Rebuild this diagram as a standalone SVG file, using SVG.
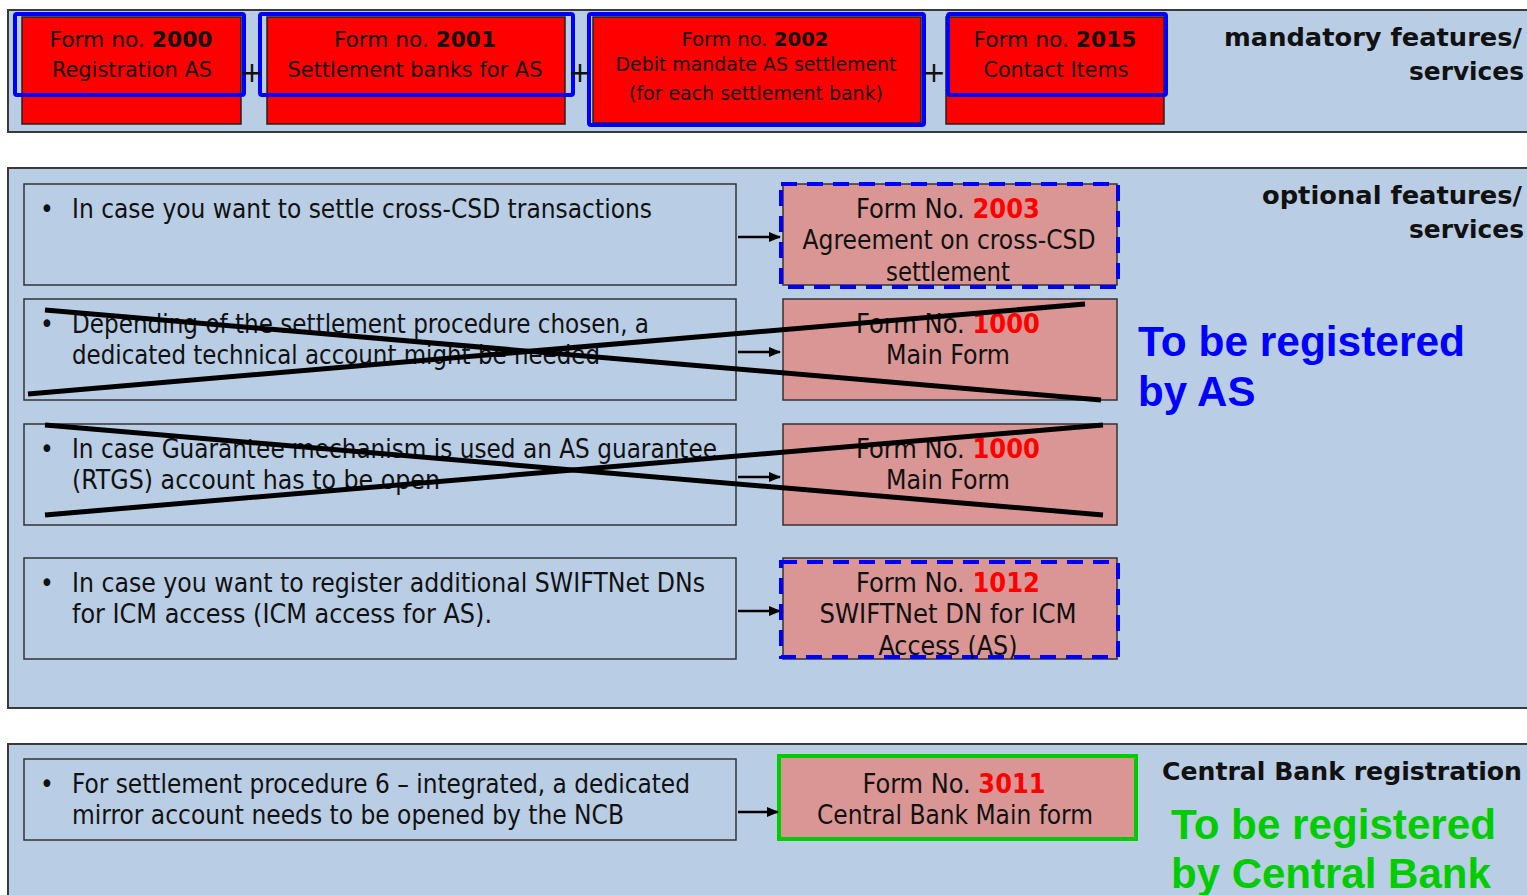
<svg xmlns="http://www.w3.org/2000/svg" width="1527" height="895" viewBox="0 0 1527 895">
<defs>
<marker id="ah" markerWidth="12" markerHeight="12" refX="11" refY="6" orient="auto" markerUnits="userSpaceOnUse" viewBox="0 0 12 12">
<path d="M0,1 L12,6 L0,11 z" fill="#000"/>
</marker>
<style>
.panel{fill:#b9cde5;stroke:#3a3a3a;stroke-width:2}
.lbox{fill:#b9cde5;stroke:#333;stroke-width:1.5}
.red{fill:#ff0000;stroke:#222;stroke-width:1.5}
.pink{fill:#d99694;stroke:#333;stroke-width:1.5}
.bf{fill:none;stroke:#0000ff;stroke-width:4}
.bd{fill:none;stroke:#0000ff;stroke-width:4;stroke-dasharray:16 10}
.gf{fill:none;stroke:#00cc00;stroke-width:4}
.t{font-family:"DejaVu Sans Condensed","DejaVu Sans",sans-serif;fill:#111}
.tc{text-anchor:middle}
.num{font-weight:bold}
.rn{font-weight:bold;fill:#ff0000}
.hd{font-family:"DejaVu Sans","Verdana",sans-serif;font-weight:bold;fill:#111;text-anchor:end}
.big{font-family:"Liberation Sans",Arial,sans-serif;font-weight:bold;font-size:42px}
.x{stroke:#000;stroke-width:5;stroke-linecap:butt}
.arr{stroke:#000;stroke-width:2.5;marker-end:url(#ah)}
.plus{font-family:"DejaVu Sans",sans-serif;font-size:28px;fill:#111;text-anchor:middle}
</style>
</defs>
<g id="panel-mandatory">
<rect class="panel" x="8" y="10" width="1530" height="122"/>
<text class="hd" x="1522" y="46" font-size="24" textLength="298" lengthAdjust="spacingAndGlyphs">mandatory features/</text>
<text class="hd" x="1524" y="80" font-size="24" textLength="115" lengthAdjust="spacingAndGlyphs">services</text>
</g>
<g id="panel-optional">
<rect class="panel" x="8" y="168" width="1530" height="540"/>
<text class="hd" x="1522" y="204" font-size="24" textLength="260" lengthAdjust="spacingAndGlyphs">optional features/</text>
<text class="hd" x="1524" y="238" font-size="24" textLength="115" lengthAdjust="spacingAndGlyphs">services</text>
<text class="big" x="1138" y="356" fill="#0000ff" textLength="327" lengthAdjust="spacingAndGlyphs">To be registered</text>
<text class="big" x="1138" y="406" fill="#0000ff">by AS</text>
</g>
<g id="panel-central">
<rect class="panel" x="8" y="744" width="1530" height="160"/>
<text class="hd" x="1522" y="780" font-size="24" textLength="360" lengthAdjust="spacingAndGlyphs">Central Bank registration</text>
<text class="big" x="1171" y="839" fill="#00cc00" textLength="325" lengthAdjust="spacingAndGlyphs">To be registered</text>
<text class="big" x="1171" y="888" fill="#00cc00">by Central Bank</text>
</g>

<g id="form2000">
<rect class="red" x="22" y="17" width="219" height="107"/>
<rect class="bf" x="15" y="14" width="229" height="81" rx="2"/>
<text class="t tc" x="131" y="47" font-size="22" textLength="163" lengthAdjust="spacingAndGlyphs">Form no. <tspan class="num">2000</tspan></text>
<text class="t tc" x="132" y="77" font-size="22" textLength="160" lengthAdjust="spacingAndGlyphs">Registration  AS</text>
</g>
<g id="form2001">
<rect class="red" x="267" y="17" width="298" height="107"/>
<rect class="bf" x="260" y="14" width="313" height="81" rx="2"/>
<text class="t tc" x="415" y="47" font-size="22" textLength="162" lengthAdjust="spacingAndGlyphs">Form no. <tspan class="num">2001</tspan></text>
<text class="t tc" x="415" y="77" font-size="22" textLength="255" lengthAdjust="spacingAndGlyphs">Settlement  banks for AS</text>
</g>
<g id="form2002">
<rect class="red" x="593" y="17" width="328" height="106"/>
<rect class="bf" x="589" y="14" width="335" height="111" rx="2"/>
<text class="t tc" x="755" y="46" font-size="20" textLength="147" lengthAdjust="spacingAndGlyphs">Form no. <tspan class="num">2002</tspan></text>
<text class="t tc" x="756" y="71" font-size="20" textLength="281" lengthAdjust="spacingAndGlyphs">Debit mandate AS settlement</text>
<text class="t tc" x="756" y="100" font-size="20" textLength="254" lengthAdjust="spacingAndGlyphs">(for each settlement bank)</text>
</g>
<g id="form2015">
<rect class="red" x="946" y="17" width="218" height="107"/>
<rect class="bf" x="948" y="14" width="218" height="81" rx="2"/>
<text class="t tc" x="1055" y="47" font-size="22" textLength="163" lengthAdjust="spacingAndGlyphs">Form no. <tspan class="num">2015</tspan></text>
<text class="t tc" x="1056" y="77" font-size="22" textLength="145" lengthAdjust="spacingAndGlyphs">Contact Items</text>
</g>
<g id="plus-signs">
<text class="plus" x="252" y="82">+</text>
<text class="plus" x="580" y="82">+</text>
<text class="plus" x="934" y="82">+</text>
</g>

<g id="cond-cross-csd">
<rect class="lbox" x="24" y="184" width="712" height="101"/>
<text class="t" x="40" y="218" font-size="26">•</text>
<text class="t" x="72" y="218" font-size="26" textLength="580" lengthAdjust="spacingAndGlyphs">In case you want to settle cross-CSD transactions</text>
</g>
<g id="cond-technical">
<rect class="lbox" x="24" y="299" width="712" height="101"/>
<text class="t" x="40" y="333" font-size="26">•</text>
<text class="t" x="72" y="333" font-size="26" textLength="577" lengthAdjust="spacingAndGlyphs">Depending of the settlement procedure chosen, a</text>
<text class="t" x="72" y="364" font-size="26" textLength="528" lengthAdjust="spacingAndGlyphs">dedicated technical account might be needed</text>
</g>
<g id="cond-guarantee">
<rect class="lbox" x="24" y="424" width="712" height="101"/>
<text class="t" x="40" y="458" font-size="26">•</text>
<text class="t" x="72" y="458" font-size="26" textLength="645" lengthAdjust="spacingAndGlyphs">In case Guarantee mechanism is used an AS guarantee</text>
<text class="t" x="72" y="489" font-size="26" textLength="368" lengthAdjust="spacingAndGlyphs">(RTGS) account has to be open</text>
</g>
<g id="cond-swiftnet">
<rect class="lbox" x="24" y="558" width="712" height="101"/>
<text class="t" x="40" y="592" font-size="26">•</text>
<text class="t" x="72" y="592" font-size="26" textLength="633" lengthAdjust="spacingAndGlyphs">In case you want to register additional SWIFTNet DNs</text>
<text class="t" x="72" y="623" font-size="26" textLength="420" lengthAdjust="spacingAndGlyphs">for ICM access (ICM access for AS).</text>
</g>
<g id="cond-mirror">
<rect class="lbox" x="24" y="759" width="712" height="81"/>
<text class="t" x="40" y="793" font-size="26">•</text>
<text class="t" x="72" y="793" font-size="26" textLength="618" lengthAdjust="spacingAndGlyphs">For settlement procedure 6 – integrated, a dedicated</text>
<text class="t" x="72" y="824" font-size="26" textLength="552" lengthAdjust="spacingAndGlyphs">mirror account needs to be opened by the NCB</text>
</g>

<g id="form2003">
<rect class="pink" x="783" y="184" width="334" height="101"/>
<rect class="bd" x="781" y="184" width="337" height="103"/>
<text class="t tc" x="948" y="218" font-size="26" textLength="184" lengthAdjust="spacingAndGlyphs">Form No. <tspan class="rn">2003</tspan></text>
<text class="t tc" x="949" y="249" font-size="26" textLength="293" lengthAdjust="spacingAndGlyphs">Agreement on cross-CSD</text>
<text class="t tc" x="948" y="281" font-size="26" textLength="124" lengthAdjust="spacingAndGlyphs">settlement</text>
</g>
<g id="form1000a">
<rect class="pink" x="783" y="299" width="334" height="101"/>
<text class="t tc" x="948" y="333" font-size="26" textLength="184" lengthAdjust="spacingAndGlyphs">Form No. <tspan class="rn">1000</tspan></text>
<text class="t tc" x="948" y="364" font-size="26" textLength="124" lengthAdjust="spacingAndGlyphs">Main Form</text>
</g>
<g id="form1000b">
<rect class="pink" x="783" y="424" width="334" height="101"/>
<text class="t tc" x="948" y="458" font-size="26" textLength="184" lengthAdjust="spacingAndGlyphs">Form No. <tspan class="rn">1000</tspan></text>
<text class="t tc" x="948" y="489" font-size="26" textLength="124" lengthAdjust="spacingAndGlyphs">Main Form</text>
</g>
<g id="form1012">
<rect class="pink" x="783" y="558" width="334" height="101"/>
<rect class="bd" x="781" y="562" width="337" height="95"/>
<text class="t tc" x="948" y="592" font-size="26" textLength="184" lengthAdjust="spacingAndGlyphs">Form No. <tspan class="rn">1012</tspan></text>
<text class="t tc" x="948" y="623" font-size="26" textLength="257" lengthAdjust="spacingAndGlyphs">SWIFTNet DN for ICM</text>
<text class="t tc" x="948" y="655" font-size="26" textLength="139" lengthAdjust="spacingAndGlyphs">Access (AS)</text>
</g>
<g id="form3011">
<rect class="pink" x="780" y="757" width="355" height="82"/>
<rect class="gf" x="779" y="756" width="357" height="83"/>
<text class="t tc" x="954" y="793" font-size="26" textLength="183" lengthAdjust="spacingAndGlyphs">Form No. <tspan class="rn">3011</tspan></text>
<text class="t tc" x="955" y="824" font-size="26" textLength="276" lengthAdjust="spacingAndGlyphs">Central Bank Main form</text>
</g>

<g id="connectors">
<line class="arr" x1="738" y1="237" x2="780" y2="237"/>
<line class="arr" x1="738" y1="352" x2="780" y2="352"/>
<line class="arr" x1="738" y1="477" x2="780" y2="477"/>
<line class="arr" x1="738" y1="611" x2="780" y2="611"/>
<line class="arr" x1="738" y1="812" x2="778" y2="812"/>
</g>
<g id="strike-outs">
<line class="x" x1="45" y1="310" x2="1101" y2="400"/>
<line class="x" x1="28" y1="394" x2="1085" y2="304"/>
<line class="x" x1="45" y1="425" x2="1103" y2="515"/>
<line class="x" x1="45" y1="515" x2="1103" y2="425"/>
</g>
</svg>
